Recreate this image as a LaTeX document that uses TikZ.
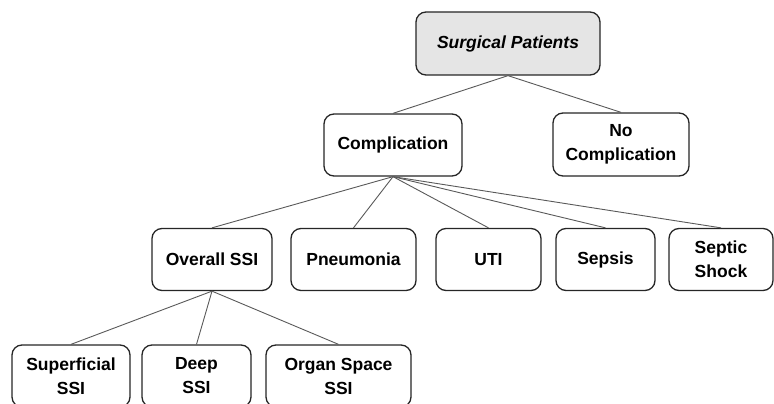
\documentclass[tikz,border=0pt]{standalone}
\usepackage{fontspec}
\setmainfont{Liberation Sans}
\begin{document}
\begin{tikzpicture}[x=1pt,y=-1pt,
  box/.style={draw=black!85, line width=1.3pt, rounded corners=10pt, fill=white,
    align=center, inner sep=2pt, minimum height=62pt,
    font=\fontsize{17.5}{24}\selectfont\bfseries},
  conn/.style={draw=black!65, line width=0.9pt}]
\useasboundingbox (0,0) rectangle (774,404);
\clip (0,0) rectangle (774,404);
% nodes
\node[box, fill=black!10, minimum width=184pt, minimum height=63pt,
  font=\fontsize{17.5}{24}\selectfont\bfseries\itshape] (sp) at (508,43.5) {Surgical Patients};
\node[box, minimum width=138pt] (comp) at (393,145) {Complication};
\node[box, minimum width=136pt, minimum height=63pt] (nocomp) at (621,144.5) {No\\Complication};
\node[box, minimum width=120pt] (ossi) at (212,259.5) {Overall SSI};
\node[box, minimum width=125pt] (pneu) at (353.5,259.5) {Pneumonia};
\node[box, minimum width=105pt] (uti) at (488.5,259.5) {UTI};
\node[box, minimum width=99pt] (sepsis) at (605.5,259.5) {Sepsis};
\node[box, minimum width=104pt] (shock) at (721,259.5) {Septic\\Shock};
\node[box, minimum width=118pt] (sup) at (71,376) {Superficial\\SSI};
\node[box, minimum width=109pt] (deep) at (196.5,376) {Deep\\SSI};
\node[box, minimum width=145pt] (organ) at (338.5,376) {Organ Space\\SSI};
% connectors
\draw[conn] (sp.south) -- (comp.north);
\draw[conn] (sp.south) -- (nocomp.north);
\foreach \t in {ossi,pneu,uti,sepsis,shock}
  \draw[conn] (comp.south) -- (\t.north);
\foreach \t in {sup,deep,organ}
  \draw[conn] (ossi.south) -- (\t.north);
\end{tikzpicture}
\end{document}
